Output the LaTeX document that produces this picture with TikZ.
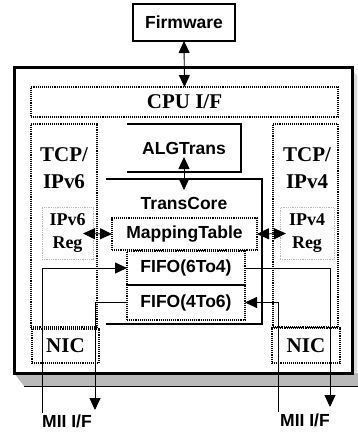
\documentclass[tikz,border=0pt]{standalone}
\usepackage{fontspec}
\setmainfont{Liberation Serif}
\setsansfont{Liberation Sans}
\usetikzlibrary{arrows.meta}

\begin{document}
\begin{tikzpicture}[x=1pt,y=-1pt,
    every node/.style={inner sep=0pt,outer sep=0pt},
    dotbox/.style={draw,densely dotted,line width=1.1pt},
    regbox/.style={draw=gray!55,densely dotted,line width=0.8pt},
    solidbox/.style={draw,line width=1.2pt},
    serifbig/.style={font=\bfseries\fontsize{21}{27}\selectfont,align=center},
    serifsmall/.style={font=\bfseries\fontsize{18}{23}\selectfont,align=center},
    sanslbl/.style={font=\sffamily\bfseries\fontsize{17.5}{20}\selectfont},
    wire/.style={line width=0.9pt},
    oneway/.style={-{Triangle[length=12pt,width=11pt]}},
    twoway/.style={{Triangle[length=12pt,width=11pt]}-{Triangle[length=12pt,width=11pt]}}]
    \useasboundingbox (0,0) rectangle (358,432);

    % Chip body with its 3D edge
    \node (chip) at (183,220) [minimum width=338pt,minimum height=306pt] {};
    \fill[gray!30] ([shift={(0,3)}]chip.north east) -- ([shift={(5,8)}]chip.north east)
        -- ([shift={(5,0)}]chip.south east) -- (chip.south east) -- cycle;
    \fill[gray!55] (chip.south west) -- ([shift={(10,13)}]chip.south west)
        -- ([shift={(6,13)}]chip.south east) -- ([shift={(6,0)}]chip.south east) -- cycle;
    \draw[line width=0.8pt] ([shift={(10,13)}]chip.south west) -- ([shift={(6,13)}]chip.south east);
    \draw[line width=3pt] (chip.south west) rectangle (chip.north east);

    % Firmware and CPU interface
    \node[solidbox,sanslbl,minimum width=102pt,minimum height=37pt] (fw) at (184,22.5) {Firmware};
    \node[dotbox,serifbig,minimum width=307pt,minimum height=30pt] (cpu) at (184.5,102) {CPU I/F};

    % TCP/IPv6 side
    \node[dotbox,minimum width=66pt,minimum height=203pt] (tcp6) at (64,225.5) {};
    \node[serifbig] (tcp6lbl) at (64,168) {TCP/\\IPv6};
    \node[regbox,serifsmall,minimum width=51pt,minimum height=52pt] (reg6) at (67.5,233.5) {IPv6\\Reg};
    \node[dotbox,serifbig,minimum width=67pt,minimum height=34pt] (nic6) at (65.5,346) {NIC};

    % TCP/IPv4 side
    \node[dotbox,minimum width=65pt,minimum height=203pt] (tcp4) at (305.5,225.5) {};
    \node[serifbig] (tcp4lbl) at (307,168) {TCP/\\IPv4};
    \node[regbox,serifsmall,minimum width=54pt,minimum height=52pt] (reg4) at (307,233.5) {IPv4\\Reg};
    \node[dotbox,serifbig,minimum width=68pt,minimum height=35pt] (nic4) at (306,345.5) {NIC};

    % ALGTrans and TransCore
    \node[sanslbl,minimum width=114pt,minimum height=48pt] (alg) at (184,148) {ALGTrans};
    \draw[line width=2.5pt] (alg.north west) -- (alg.north east) -- (alg.south east) -- (alg.south west);
    \node[minimum width=156pt,minimum height=145pt] (core) at (184,251.5) {};
    \draw[line width=2.5pt] (core.north west) -- (core.north east) -- (core.south east) -- (core.south west);
    \node[sanslbl] (corelbl) at (184,203) {TransCore};
    \node[dotbox,sanslbl,minimum width=145pt,minimum height=32pt] (map) at (184.5,234) {MappingTable};
    \node[dotbox,sanslbl,minimum width=118pt,minimum height=34pt] (f64) at (186,268) {FIFO(6To4)};
    \node[dotbox,sanslbl,minimum width=118pt,minimum height=35pt] (f46) at (186,302.5) {FIFO(4To6)};

    % MII ends
    \coordinate (mii6in) at (42,413);
    \coordinate (mii6out) at (95,410);
    \coordinate (mii4in) at (278,412);
    \coordinate (mii4out) at (330,407);
    \node[sanslbl] (mii6) at (67,421) {MII I/F};
    \node[sanslbl] (mii4) at (305,420) {MII I/F};

    % Connections
    \draw[wire,twoway] (fw.south) -- (cpu.north);
    \draw[wire,twoway] ([yshift=15pt]alg.south) -- ([yshift=-11pt]core.north);
    \draw[wire,twoway] ([xshift=-10pt]reg6.east) -- (map.west);
    \draw[wire,twoway] (map.east) -- ([xshift=6pt]reg4.west);
    \draw[wire,oneway] (mii6in) |- (f64.west);
    \draw[wire,oneway] (f64.east) -| (mii4out);
    \draw[wire,oneway] (mii4in) |- (f46.east);
    \draw[wire,oneway] (f46.west) -| (mii6out);
\end{tikzpicture}
\end{document}
